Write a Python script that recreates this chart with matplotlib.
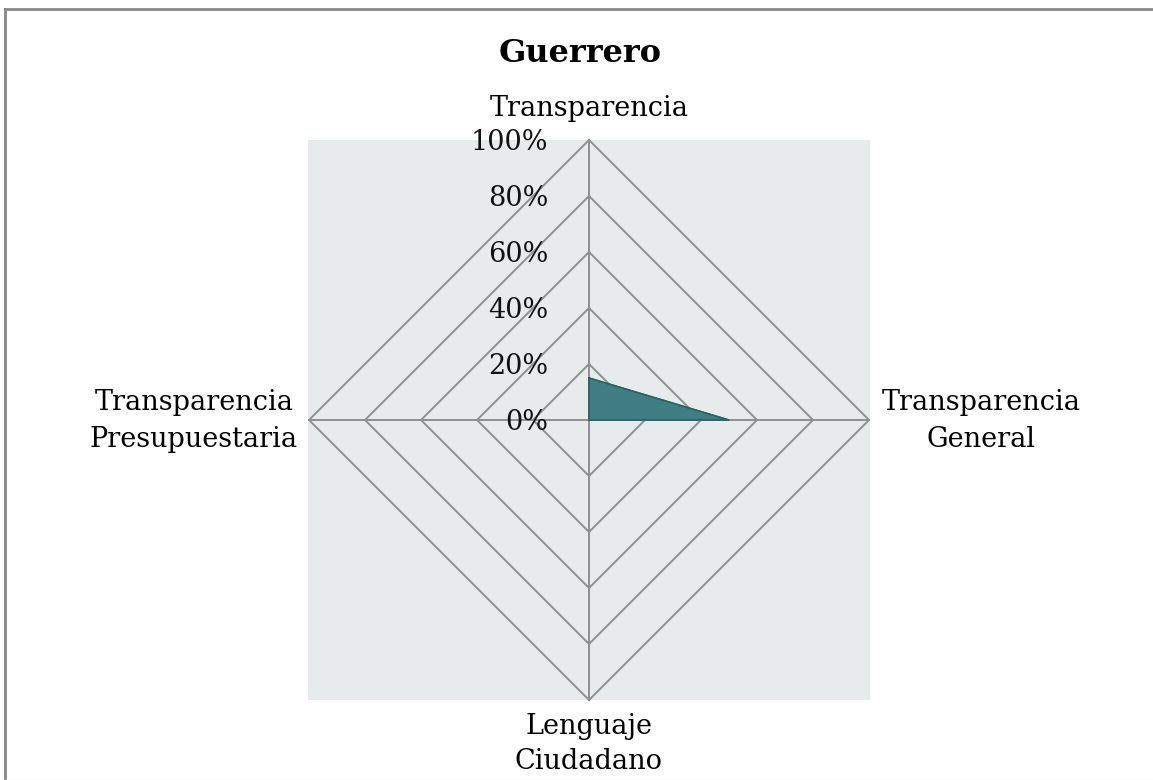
import numpy as np
import matplotlib.pyplot as plt
from matplotlib.lines import Line2D

# Data
title = "Guerrero"
categories = ["Transparencia", "Transparencia\nGeneral", "Lenguaje\nCiudadano", "Transparencia\nPresupuestaria"]
values = [0.15, 0.50, 0.0, 0.0]
ring_levels = [0.2, 0.4, 0.6, 0.8, 1.0]
ring_labels = ["20%", "40%", "60%", "80%", "100%"]

W, H = 1153, 780
fig = plt.figure(figsize=(W / 100, H / 100), dpi=100)
fig.patch.set_facecolor("white")

serif = ["DejaVu Serif"]
grid_col = "#8f8f8f"
fill_col = "#3f7e82"
edge_col = "#2d5f63"
fs = 19.5

# Plot area: centre at (589, 420), radius 280 px
cx, cy, R = 589, 420, 280
left_px, right_px, top_px, bot_px = 308, 870, 140, 700
ax = fig.add_axes([left_px / W, (H - bot_px) / H, (right_px - left_px) / W, (bot_px - top_px) / H])
ax.set_xlim((left_px - cx) / R, (right_px - cx) / R)
ax.set_ylim(-(bot_px - cy) / R, (cy - top_px) / R)
ax.set_facecolor("#e8ebeb")
for s in ax.spines.values():
    s.set_visible(False)
ax.set_xticks([])
ax.set_yticks([])

n = len(categories)
angles = np.pi / 2 - np.arange(n) * 2 * np.pi / n

# Polygon grid rings
for lvl in ring_levels:
    xs = np.append(lvl * np.cos(angles), lvl * np.cos(angles[0]))
    ys = np.append(lvl * np.sin(angles), lvl * np.sin(angles[0]))
    ax.plot(xs, ys, color=grid_col, lw=1.4, solid_joinstyle="miter", clip_on=False, zorder=1)

# Spokes
for a in angles:
    ax.plot([0, np.cos(a)], [0, np.sin(a)], color=grid_col, lw=1.4, clip_on=False, zorder=1)

# Data series
vals = np.array(values)
px = np.append(vals * np.cos(angles), vals[0] * np.cos(angles[0]))
py = np.append(vals * np.sin(angles), vals[0] * np.sin(angles[0]))
ax.fill(px, py, color=fill_col, zorder=3)
ax.plot(px, py, color=edge_col, lw=1.2, zorder=4)

# Ring value labels along the top spoke
lab_x = -41 / R
ax.text(lab_x, -0.01, "0%", ha="right", va="center", fontsize=fs, family=serif, color="#111111", zorder=5)
for lvl, lab in zip(ring_levels, ring_labels):
    ax.text(lab_x, lvl - 0.008, lab, ha="right", va="center", fontsize=fs, family=serif,
            color="#111111", zorder=5, clip_on=False)

# Category labels
ax.text(0, (cy - 108) / R, categories[0], ha="center", va="center", fontsize=fs, family=serif, clip_on=False)
ax.text((882 - cx) / R, -0.004, categories[1], ha="left", va="center", fontsize=fs, family=serif,
        clip_on=False, multialignment="center", linespacing=1.45)
ax.text(0, -(744 - cy) / R, categories[2], ha="center", va="center", fontsize=fs, family=serif,
        clip_on=False, multialignment="center", linespacing=1.4)
ax.text((298 - cx) / R, -0.004, categories[3], ha="right", va="center", fontsize=fs, family=serif,
        clip_on=False, multialignment="center", linespacing=1.45)

# Title
fig.text(580 / W, 1 - 53 / H, title, ha="center", va="center", fontsize=23, fontweight="bold", family=serif)

# Outer frame
fig.add_artist(Line2D([5 / W, 1], [1 - 9 / H, 1 - 9 / H], transform=fig.transFigure, color="#888888", lw=2))
fig.add_artist(Line2D([5 / W, 5 / W], [0, 1 - 9 / H], transform=fig.transFigure, color="#888888", lw=2))
fig.add_artist(Line2D([5 / W, 1], [0.5 / H, 0.5 / H], transform=fig.transFigure, color="#dddddd", lw=1))

fig.savefig("out.png", dpi=100, facecolor="white")
